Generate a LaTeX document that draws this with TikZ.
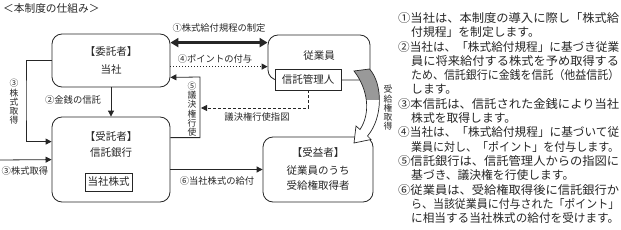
\documentclass[tikz,border=0pt]{standalone}
\usepackage{fontspec}
\setmainfont{Noto Sans CJK JP}
\usetikzlibrary{arrows.meta}
\begin{document}
\begin{tikzpicture}[x=1pt,y=-1pt,
  every node/.style={text=black!85},
  box/.style={draw=black!85, rounded corners=10pt, line width=0.8pt, inner sep=0pt},
  sqbox/.style={draw=black!85, line width=0.8pt, fill=white, inner sep=0pt},
  boxtxt/.style={font=\fontsize{10.5}{12}\selectfont, inner sep=0pt},
  lbl/.style={font=\fontsize{9.3}{10}\selectfont, inner sep=0pt},
  vlbl/.style={font=\fontsize{8.8}{9.3}\selectfont, align=center, inner sep=0pt},
  ptxt/.style={font=\fontsize{11.8}{13}\selectfont, inner sep=0pt, anchor=west},
  conn/.style={draw=black!85, line width=0.8pt},
  tip/.style={-{Triangle[length=6pt,width=6pt]}}
]
\useasboundingbox (0,0) rectangle (621,230);

% title
\node[font=\fontsize{10.7}{12}\selectfont, inner sep=0pt, anchor=west] (title) at (3,8) {＜本制度の仕組み＞};

% boxes
\node[box, minimum width=118pt, minimum height=53pt] (itaku) at (111,60.5) {};
\node[boxtxt] (itakuA) at (111,52) {【委託者】};
\node[boxtxt] (itakuB) at (111,70) {当社};

\node[box, minimum width=102pt, minimum height=45pt] (jyu) at (319,57.5) {};
\node[boxtxt] (jyuA) at (319,56) {従業員};
\node[sqbox, minimum width=66pt, minimum height=21pt, font=\fontsize{10.5}{12}\selectfont] (kanri) at (308,79.5) {信託管理人};

\node[box, minimum width=118pt, minimum height=85pt] (jutaku) at (111,159.5) {};
\node[boxtxt] (jutakuA) at (111,137) {【受託者】};
\node[boxtxt] (jutakuB) at (111,153) {信託銀行};
\node[sqbox, minimum width=47pt, minimum height=18pt, font=\fontsize{10.5}{12}\selectfont] (kabu) at (108.5,182) {当社株式};

\node[box, minimum width=110pt, minimum height=65pt] (jueki) at (318,169.5) {};
\node[boxtxt] (juekiA) at (318,153) {【受益者】};
\node[boxtxt] (juekiB) at (318,171) {従業員のうち};
\node[boxtxt] (juekiC) at (318,185) {受給権取得者};

% coordinates
\coordinate (c3) at (26,100);
\coordinate (c4) at (0,160);
\coordinate (c5) at (200,77);
\coordinate (c6) at (201,108);

% (1) double thick arrow
\draw[draw=black!85, line width=2.4pt, {Triangle[length=8pt,width=9pt]}-{Triangle[length=8pt,width=9pt]}]
  ([yshift=-9pt]itaku.north east) -- ([yshift=-8pt]jyu.north west);
\node[lbl] (l1lbl) at (219,28) {①株式給付規程の制定};

% (4) dotted arrow
\draw[conn, tip, line width=1pt, dotted]
  ([yshift=-33pt]itaku.north east) -- ([yshift=-32pt]jyu.north west);
\node[lbl] (l4lbl) at (215,59) {④ポイントの付与};

% (5)
\draw[conn, tip] ([yshift=-21pt]jutaku.north east) -| (c5) -- ([yshift=10pt]itaku.south east);
\node[vlbl] (l5lbl) at (192,109) {⑤\\議\\決\\権\\行\\使};

% voting instruction
\draw[conn, tip, dashed, dash pattern=on 3pt off 2pt] (kanri.south) |- (c6);
\node[lbl] (ldir) at (257,117) {議決権行使指図};

% (2)
\draw[conn, tip] (itaku.south) -- (jutaku.north);
\node[lbl] (l2lbl) at (73,100) {②金銭の信託};

% (3) loop
\draw[conn, tip] (itaku.west) -| (c3) |- ([yshift=-25pt]jutaku.north west);
\node[vlbl] (l3vlbl) at (14,102) {③\\株\\式\\取\\得};

% (3) from outside
\draw[conn, tip] (c4) -- ([yshift=-43pt]jutaku.north west);
\node[lbl] (l3lbl) at (25,171) {③株式取得};

% (6)
\draw[conn, tip] (jutaku.east |- jueki.west) -- (jueki.west);
\node[lbl] (l6lbl) at (217,181) {⑥当社株式の給付};

% grey curved arrow (vesting)
\draw[draw=black!85, line width=0.7pt, fill=white,
      path picture={\fill[gray!80] (340,60) rectangle (400,100);}]
  (354,71) -- (369.5,69) .. controls (383,84) and (383,118) .. (367.5,136)
  -- (371,139.5) -- (354,143) -- (356,126) -- (360,129.5)
  .. controls (371,113) and (368,89) .. (354,71) -- cycle;
\node[vlbl] (lvest) at (388,108) {受\\給\\権\\取\\得};

% right panel
\node[ptxt] (p1) at (398,18) {\resizebox{221pt}{\height}{①当社は、本制度の導入に際し「株式給}};
\node[ptxt] (p2) at (411,32.3) {付規程」を制定します。};
\node[ptxt] (p3) at (398,46.6) {\resizebox{221pt}{\height}{②当社は、「株式給付規程」に基づき従業}};
\node[ptxt] (p4) at (411,60.9) {\resizebox{208pt}{\height}{員に将来給付する株式を予め取得する}};
\node[ptxt] (p5) at (411,75.2) {\resizebox{208pt}{\height}{ため、信託銀行に金銭を信託（他益信託）}};
\node[ptxt] (p6) at (411,89.5) {します。};
\node[ptxt] (p7) at (398,103.8) {\resizebox{221pt}{\height}{③本信託は、信託された金銭により当社}};
\node[ptxt] (p8) at (411,118.1) {株式を取得します。};
\node[ptxt] (p9) at (398,132.4) {\resizebox{221pt}{\height}{④当社は、「株式給付規程」に基づいて従}};
\node[ptxt] (p10) at (411,146.7) {\resizebox{208pt}{\height}{業員に対し、「ポイント」を付与します。}};
\node[ptxt] (p11) at (398,161) {\resizebox{221pt}{\height}{⑤信託銀行は、信託管理人からの指図に}};
\node[ptxt] (p12) at (411,175.3) {基づき、議決権を行使します。};
\node[ptxt] (p13) at (398,189.6) {\resizebox{221pt}{\height}{⑥従業員は、受給権取得後に信託銀行か}};
\node[ptxt] (p14) at (411,203.9) {\resizebox{208pt}{\height}{ら、当該従業員に付与された「ポイント」}};
\node[ptxt] (p15) at (411,218.2) {\resizebox{208pt}{\height}{に相当する当社株式の給付を受けます。}};
\end{tikzpicture}
\end{document}
